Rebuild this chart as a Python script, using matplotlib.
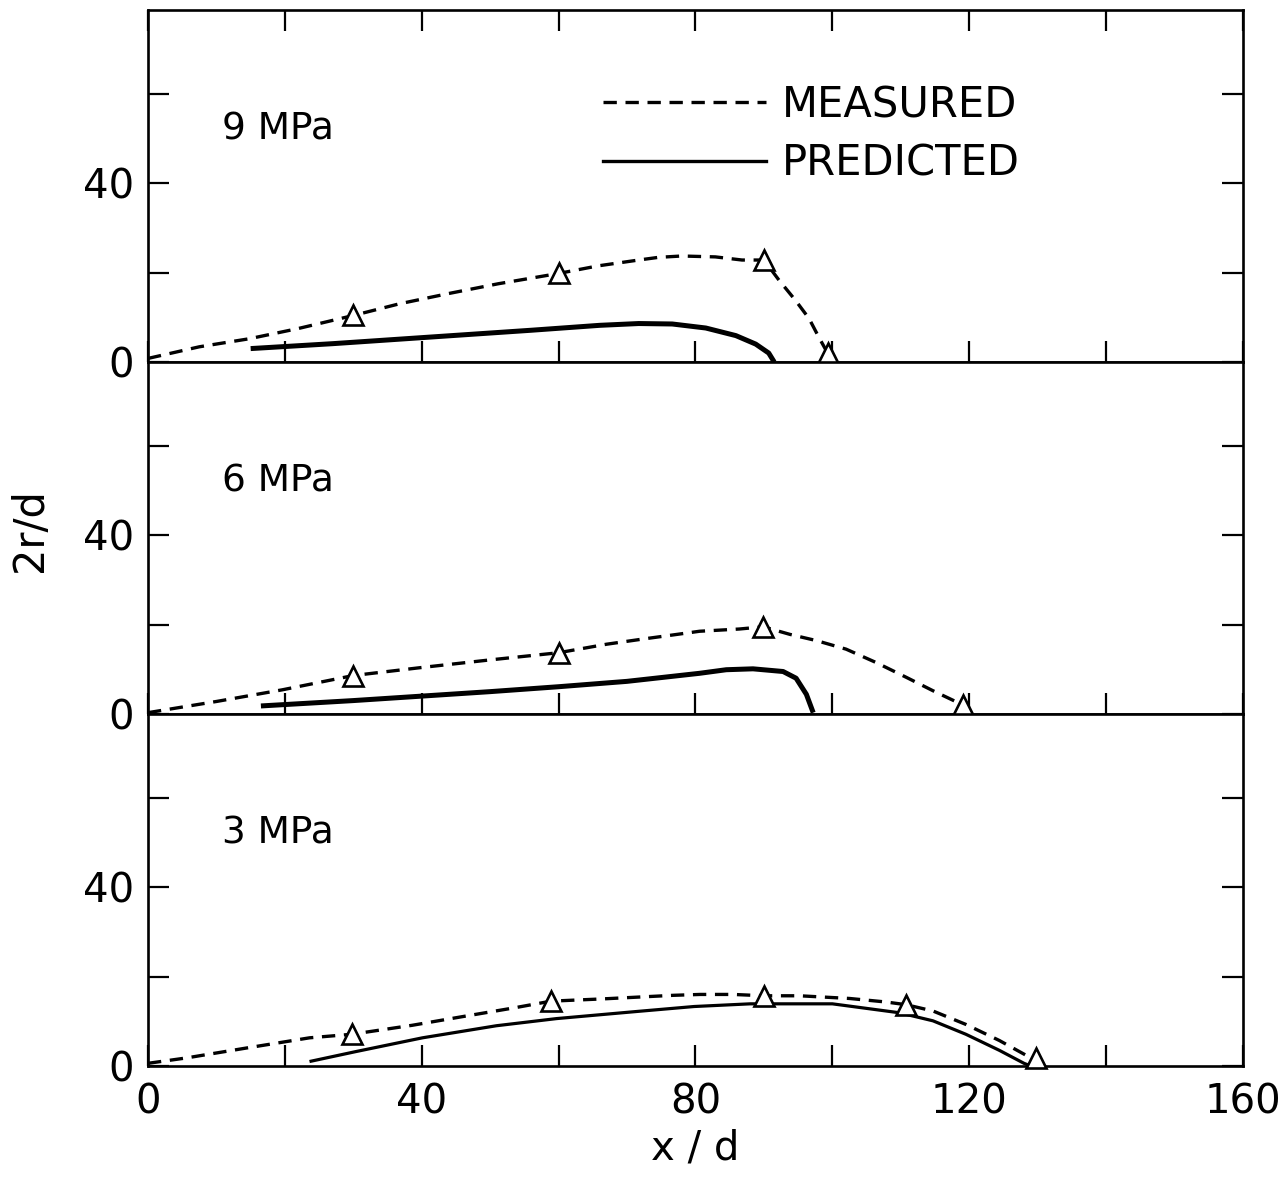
import matplotlib
matplotlib.use("Agg")
import matplotlib.pyplot as plt
from matplotlib.lines import Line2D
from matplotlib.ticker import FixedLocator, FixedFormatter

plt.rcParams["font.family"] = ["DejaVu Sans"]

# 9 MPa
meas_9_x = [0, 7.5, 14.8, 22, 30, 36.7, 43.9, 51.2, 60, 65.8, 71.7, 74.6, 78, 82.9, 86.8, 90, 92.2, 94.6, 96.6, 98, 99.3]
meas_9_y = [0.8, 3.4, 5.2, 7.5, 10.4, 13.0, 15.3, 17.5, 19.8, 21.5, 22.8, 23.4, 23.7, 23.5, 22.8, 22.8, 18.3, 13.8, 9.7, 5.6, 2.0]
pts_9_x = [30, 60, 90, 99.3]
pts_9_y = [10.4, 19.8, 22.8, 2.0]
pred_9_x = [15, 27, 41.5, 56, 66, 71.7, 76.6, 81.5, 85.9, 88.8, 90.7, 91.5]
pred_9_y = [3.0, 4.1, 5.6, 7.1, 8.2, 8.6, 8.5, 7.6, 5.9, 4.0, 2.0, 0.0]

# 6 MPa
meas_6_x = [0, 10, 19.6, 30, 40, 50, 60, 67, 72.5, 77.3, 80.6, 86.4, 89.9, 93.8, 97.7, 102, 106.4, 110.8, 114.7, 119.1]
meas_6_y = [0.3, 2.8, 5.4, 8.6, 10.4, 12.1, 13.7, 15.6, 16.8, 17.8, 18.5, 19.0, 19.5, 17.8, 16.4, 14.5, 11.5, 8.2, 5.2, 2.0]
pts_6_x = [30, 60, 89.9, 119.1]
pts_6_y = [8.6, 13.7, 19.5, 2.0]
pred_6_x = [16.5, 30, 40, 50, 60, 70, 80.6, 84.5, 88.4, 92.8, 94.7, 96.2, 97.2]
pred_6_y = [1.8, 3.0, 4.0, 5.0, 6.1, 7.3, 9.1, 9.9, 10.1, 9.5, 8.0, 4.4, 0.3]

# 3 MPa
meas_3_x = [0, 5.6, 14.3, 23.6, 29.8, 38.6, 45.8, 53.5, 58.9, 66.4, 76.7, 80.7, 85.5, 90, 95.2, 102.5, 107.9,
            110.8, 114.7, 119.5, 124.4, 128.3, 129.7]
meas_3_y = [0.6, 1.8, 4.0, 6.3, 7.1, 9.1, 11.0, 13.0, 14.5, 15.0, 15.8, 16.0, 16.0, 15.7, 15.7, 15.1, 14.3,
            13.7, 12.3, 9.3, 5.7, 2.4, 1.9]
pts_3_x = [29.8, 58.9, 90, 110.8, 129.7]
pts_3_y = [7.1, 14.5, 15.7, 13.7, 1.9]
pred_3_x = [23.6, 30.3, 40.1, 50.9, 59.7, 71.5, 79.8, 88, 100, 109.8, 114.7, 119.5, 124.4, 128, 129]
pred_3_y = [1.0, 3.2, 6.3, 9.0, 10.6, 12.2, 13.3, 13.9, 13.9, 11.9, 10.1, 7.1, 3.5, 0.6, 0.0]

panel_labels = ["9 MPa", "6 MPa", "3 MPa"]
x_ticks = [0, 20, 40, 60, 80, 100, 120, 140, 160]
x_ticklabels = ["0", "", "40", "", "80", "", "120", "", "160"]
y_ticks = [0, 20, 40, 60]
y_ticklabels = ["0", "", "40", ""]

W, H = 1288, 1182
fig = plt.figure(figsize=(W / 100, H / 100), dpi=100)

left, right = 148, 1243
tops = [10, 362, 714]
panel_h = 352

DASH = (0, (4, 2.6))
panels = [
    (meas_9_x, meas_9_y, pts_9_x, pts_9_y, pred_9_x, pred_9_y, 3.6),
    (meas_6_x, meas_6_y, pts_6_x, pts_6_y, pred_6_x, pred_6_y, 3.6),
    (meas_3_x, meas_3_y, pts_3_x, pts_3_y, pred_3_x, pred_3_y, 2.3),
]

axes = []
for i, (mx, my, px, py, sx, sy, plw) in enumerate(panels):
    ax = fig.add_axes([left / W, 1 - (tops[i] + panel_h) / H, (right - left) / W, panel_h / H])
    ax.plot(mx, my, color="black", lw=2.4, linestyle=DASH, zorder=2)
    ax.plot(sx, sy, color="black", lw=plw, solid_capstyle="butt", solid_joinstyle="round", zorder=2)
    ax.plot(px, py, linestyle="none", marker="^", markersize=15, markerfacecolor="white",
            markeredgecolor="black", markeredgewidth=1.9, zorder=3, clip_on=False)

    ax.set_xlim(0, 160)
    ax.set_ylim(0, 78.7)
    for sp in ax.spines.values():
        sp.set_linewidth(1.9)

    ax.xaxis.set_major_locator(FixedLocator(x_ticks))
    ax.yaxis.set_major_locator(FixedLocator(y_ticks))
    ax.yaxis.set_major_formatter(FixedFormatter(y_ticklabels))
    ax.tick_params(axis="both", direction="in", length=15, width=1.6, pad=12, labelsize=29)
    ax.tick_params(axis="y", right=True, pad=10)
    ax.tick_params(axis="x", top=(i == 0), labelbottom=(i == 2))

    ax.text(10.8, 52, panel_labels[i], fontsize=27, va="center", ha="left")
    axes.append(ax)

bottom_ax = axes[2]
bottom_ax.xaxis.set_major_formatter(FixedFormatter(x_ticklabels))
bottom_ax.set_xlabel("x / d", fontsize=29, labelpad=4)

fig.text(30 / W, 1 - 530 / H, "2r/d", rotation=90, fontsize=30, ha="center", va="center")

handles = [
    Line2D([], [], color="black", lw=2.4, linestyle=DASH),
    Line2D([], [], color="black", lw=2.4),
]
axes[0].legend(handles, ["MEASURED", "PREDICTED"], loc="upper left",
               bbox_to_anchor=(603 / W, 1 - 84 / H), bbox_transform=fig.transFigure,
               frameon=False, fontsize=30, handlelength=3.9, handletextpad=0.4,
               labelspacing=0.4, borderpad=0, borderaxespad=0)

fig.savefig("out.png", dpi=100)
